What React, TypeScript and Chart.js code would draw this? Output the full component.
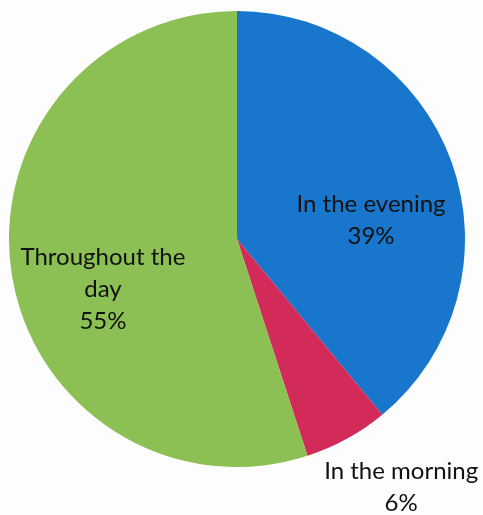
import React, { useEffect, useRef } from "react";
import { Chart, registerables } from "chart.js";

Chart.register(...registerables);

const categories = ["In the evening", "In the morning", "Throughout the day"];
const values = [39, 6, 55];
const labelLines = [["In the evening", "39%"], ["In the morning", "6%"], ["Throughout the", "day", "55%"]];
const colors = ["#1877cc", "#d22a59", "#8cc054"];
// label centre offsets as fractions of the pie radius
const labelOffsets = [[0.588, -0.08], [0.72, 1.09], [-0.588, 0.22]];

const labelPlugin = {
  id: "sliceLabels",
  afterDatasetsDraw(chart: any) {
    const ctx = chart.ctx;
    const meta = chart.getDatasetMeta(0);
    ctx.save();
    ctx.fillStyle = "#111";
    ctx.font = "24px Lato, 'Open Sans', sans-serif";
    ctx.textAlign = "center";
    ctx.textBaseline = "middle";
    const lh = 32;
    meta.data.forEach((arc: any, i: number) => {
      const r = arc.outerRadius;
      const cx = arc.x + labelOffsets[i][0] * r;
      const cy = arc.y + labelOffsets[i][1] * r;
      const lines = labelLines[i];
      const start = cy - ((lines.length - 1) * lh) / 2;
      lines.forEach((t, k) => ctx.fillText(t, cx, start + k * lh));
    });
    ctx.restore();
  },
};

export default function App() {
  const ref = useRef<HTMLCanvasElement>(null);
  useEffect(() => {
    if (!ref.current) return;
    const chart = new Chart(ref.current, {
      type: "pie",
      data: {
        labels: categories,
        datasets: [{ data: values, backgroundColor: colors, borderWidth: 0 }],
      },
      options: {
        animation: false,
        responsive: false,
        layout: { padding: { left: 9, right: 18, top: 11, bottom: 48 } },
        plugins: { legend: { display: false }, tooltip: { enabled: false } },
      },
      plugins: [labelPlugin],
    });
    return () => chart.destroy();
  }, []);
  return (
    <div style={{ position: "fixed", left: 0, top: 0, width: 483, height: 515, background: "#fdfdfd" }}>
      <canvas ref={ref} width={483} height={515} />
    </div>
  );
}
